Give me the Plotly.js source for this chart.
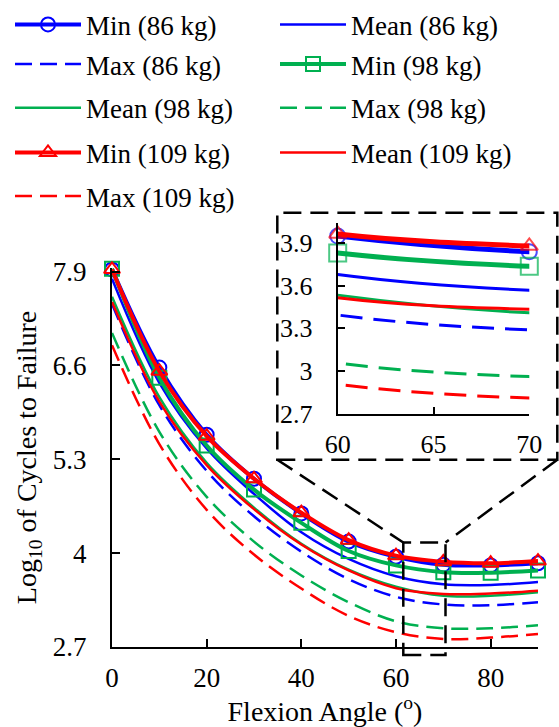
<!DOCTYPE html>
<html>
<head>
<meta charset="utf-8">
<script src="https://cdn.plot.ly/plotly-3.0.1.min.js"></script>
<style>html,body{margin:0;padding:0;background:#fff;}#chart{width:559px;height:727px;}</style>
</head>
<body>
<div id="chart"></div>
<script>
// ---- data ----
const angle = [0, 10, 20, 30, 40, 50, 60, 70, 80, 90];

const min86   = [7.93, 6.57, 5.64, 5.03, 4.55, 4.16, 3.950, 3.840, 3.83, 3.86];
const mean86  = [7.80, 6.36, 5.45, 4.82, 4.29, 3.92, 3.680, 3.569, 3.56, 3.60];
const max86   = [7.45, 6.05, 5.14, 4.51, 4.02, 3.64, 3.394, 3.289, 3.28, 3.32];

const min98   = [7.94, 6.43, 5.49, 4.88, 4.42, 4.03, 3.830, 3.737, 3.73, 3.76];
const mean98  = [7.55, 6.16, 5.25, 4.63, 4.13, 3.77, 3.534, 3.410, 3.41, 3.46];
const max98   = [7.05, 5.68, 4.78, 4.16, 3.69, 3.32, 3.056, 2.960, 2.96, 3.00];

const min109  = [7.93, 6.52, 5.62, 5.03, 4.56, 4.18, 3.965, 3.880, 3.86, 3.89];
const mean109 = [7.48, 6.10, 5.22, 4.61, 4.12, 3.76, 3.515, 3.434, 3.44, 3.48];
const max109  = [6.88, 5.51, 4.60, 3.98, 3.51, 3.13, 2.905, 2.810, 2.83, 2.88];

const mainYTicks  = [2.7, 4, 5.3, 6.6, 7.9];
const mainXTicks  = [0, 20, 40, 60, 80];
const insetYTicks = [2.7, 3, 3.3, 3.6, 3.9];
const insetYText  = ['2.7', '3', '3.3', '3.6', '3.9'];
const insetXTicks = [60, 65, 70];

// ---- styling ----
const BLUE = '#0000FF', GREEN = '#00B050', RED = '#FF0000';
const FONT = 'Liberation Serif, Times New Roman, serif';
const DASH_MAIN = '17px,8px';
const DASH_INSET = '22px,11px';

const series = [
  {name: 'Min (86 kg)',   y: min86,   color: BLUE,  kind: 'min',  symbol: 'circle-open',       leg: 'legend'},
  {name: 'Mean (86 kg)',  y: mean86,  color: BLUE,  kind: 'mean', leg: 'legend'},
  {name: 'Max (86 kg)',   y: max86,   color: BLUE,  kind: 'max',  leg: 'legend2'},
  {name: 'Min (98 kg)',   y: min98,   color: GREEN, kind: 'min',  symbol: 'square-open',       leg: 'legend2'},
  {name: 'Mean (98 kg)',  y: mean98,  color: GREEN, kind: 'mean', leg: 'legend3'},
  {name: 'Max (98 kg)',   y: max98,   color: GREEN, kind: 'max',  leg: 'legend3'},
  {name: 'Min (109 kg)',  y: min109,  color: RED,   kind: 'min',  symbol: 'triangle-up-open',  leg: 'legend4'},
  {name: 'Mean (109 kg)', y: mean109, color: RED,   kind: 'mean', leg: 'legend4'},
  {name: 'Max (109 kg)',  y: max109,  color: RED,   kind: 'max',  leg: 'legend5'}
];

const traces = [];
series.forEach(s => {
  const isMin = s.kind === 'min';
  const t = {
    type: 'scatter', x: angle, y: s.y, name: s.name, legend: s.leg,
    mode: isMin ? 'lines+markers' : 'lines',
    line: {color: s.color, width: isMin ? 4 : 2.5, shape: 'spline', smoothing: 1,
           dash: s.kind === 'max' ? DASH_MAIN : 'solid'},
    cliponaxis: false, hoverinfo: 'skip', xaxis: 'x', yaxis: 'y'
  };
  if (isMin) t.marker = {symbol: s.symbol, size: 14, color: s.color, line: {color: s.color, width: 2}};
  traces.push(t);
});
series.forEach(s => {
  const isMin = s.kind === 'min';
  const t = {
    type: 'scatter', x: angle, y: s.y, name: s.name, showlegend: false,
    mode: isMin ? 'lines+markers' : 'lines',
    line: {color: s.color, width: isMin ? 5 : 3, shape: 'spline', smoothing: 1,
           dash: s.kind === 'max' ? DASH_INSET : 'solid'},
    cliponaxis: false, hoverinfo: 'skip', xaxis: 'x2', yaxis: 'y2'
  };
  if (isMin) {
    const sizes = angle.map(a => (a >= 60 && a <= 70) ? (s.symbol === 'square-open' ? 17 : 15) : 0);
    t.marker = {symbol: s.symbol, size: sizes, color: s.color, line: {color: s.color, width: 2}};
  }
  traces.push(t);
});

const tickFont = {family: FONT, size: 27, color: '#000'};
const axisCommon = {showline: true, linecolor: '#000', linewidth: 2, showgrid: false, zeroline: false,
                    ticks: 'inside', tickcolor: '#000', tickwidth: 2, mirror: false, automargin: false};

// Plot area = whole width, top 0 .. bottom 647 px (height 647)
const W = 559, H = 647;
const px = v => v / W;
const py = v => (H - v) / H;

function legendRow(centerPx) {
  return {orientation: 'h', x: px(10), xanchor: 'left', y: py(centerPx), yanchor: 'middle',
          entrywidth: 184, entrywidthmode: 'pixels', itemwidth: 66,
          font: {family: FONT, size: 27, color: '#000'}, bgcolor: 'rgba(0,0,0,0)', borderwidth: 0};
}

const boxLine = {color: '#000', width: 2.5, dash: '18px,9px'};

const layout = {
  width: 559, height: 727,
  margin: {l: 0, r: 0, t: 0, b: 80, pad: 0},
  paper_bgcolor: '#fff', plot_bgcolor: 'rgba(0,0,0,0)',
  showlegend: true,
  font: {family: FONT, color: '#000'},
  xaxis: Object.assign({}, axisCommon, {
    domain: [px(112), px(538)], range: [0, 90], tickvals: mainXTicks, ticklen: 8, tickfont: tickFont,
    ticklabelstandoff: 6,
    title: {text: 'Flexion Angle (<sup>o</sup>)', font: {family: FONT, size: 28, color: '#000'}, standoff: 2}
  }),
  yaxis: Object.assign({}, axisCommon, {
    domain: [0, py(265)], range: [2.7, 7.95], tickvals: mainYTicks, ticklen: 8, tickfont: tickFont,
    ticklabelstandoff: 18,
    title: {text: 'Log<sub>10</sub> of Cycles to Failure', font: {family: FONT, size: 28, color: '#000'}, standoff: 8}
  }),
  xaxis2: Object.assign({}, axisCommon, {
    domain: [px(337.7), px(529.3)], range: [60, 70], anchor: 'y2', tickvals: insetXTicks, ticklen: 7,
    tickfont: {family: FONT, size: 26, color: '#000'}, ticklabelstandoff: 6
  }),
  yaxis2: Object.assign({}, axisCommon, {
    domain: [py(411.7), py(220)], range: [2.7, 4.04], anchor: 'x2', tickvals: insetYTicks, ticktext: insetYText,
    ticklen: 7, tickfont: {family: FONT, size: 26, color: '#000'}, ticklabelstandoff: 18
  }),
  legend:  legendRow(20),
  legend2: legendRow(60),
  legend3: legendRow(104),
  legend4: legendRow(149),
  legend5: legendRow(193),
  shapes: [
    {type: 'rect', xref: 'paper', yref: 'paper', x0: px(277.3), x1: px(557.3), y0: py(458.3), y1: py(209.3), line: boxLine, fillcolor: 'rgba(0,0,0,0)', layer: 'above'},
    {type: 'rect', xref: 'paper', yref: 'paper', x0: px(403.3), x1: px(445.5), y0: py(655), y1: py(541.7), line: boxLine, fillcolor: 'rgba(0,0,0,0)', layer: 'above'},
    {type: 'line', xref: 'paper', yref: 'paper', x0: px(277.3), y0: py(458.3), x1: px(403.3), y1: py(541.7), line: boxLine, layer: 'above'},
    {type: 'line', xref: 'paper', yref: 'paper', x0: px(557.3), y0: py(458.3), x1: px(445.5), y1: py(541.7), line: boxLine, layer: 'above'}
  ]
};

Plotly.newPlot('chart', traces, layout, {staticPlot: true, displayModeBar: false});
</script>
</body>
</html>
